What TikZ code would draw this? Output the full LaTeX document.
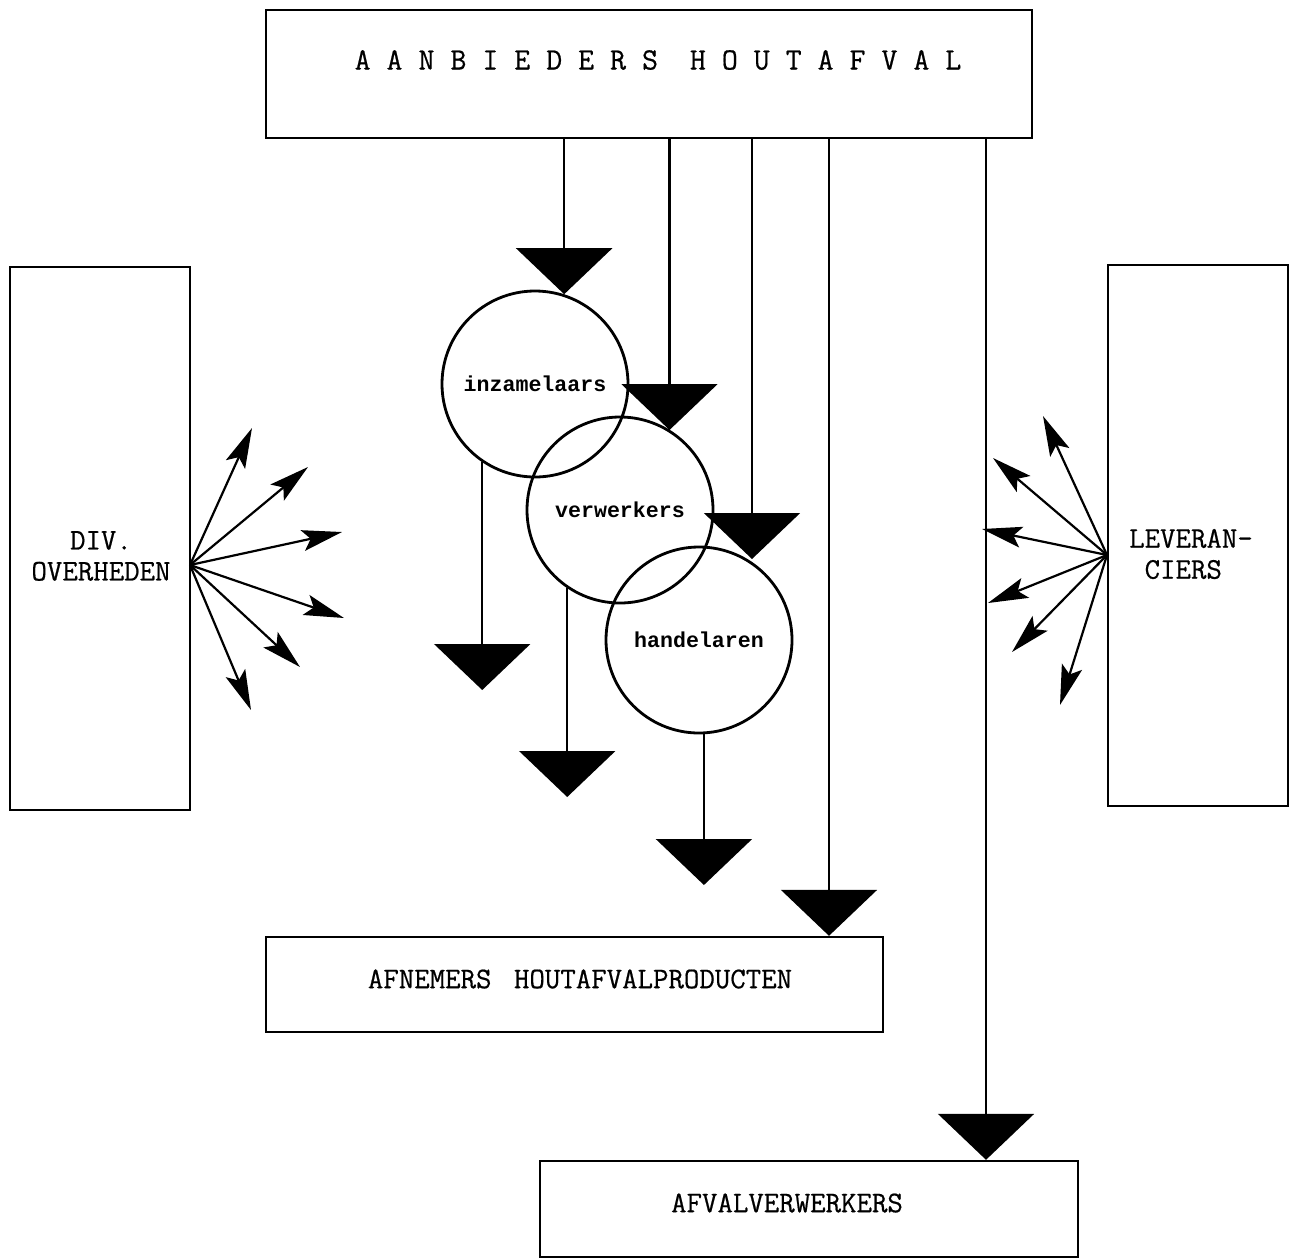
\documentclass[tikz,border=0pt]{standalone}
\usepackage{fontspec}
\newfontfamily\circfont{Liberation Mono}
\newfontfamily\boxfont{Latin Modern Mono}[FakeBold=0.6]
\usetikzlibrary{arrows.meta}
\begin{document}
\begin{tikzpicture}[x=0.5pt,y=-0.5pt,
  box/.style={draw, line width=1.2pt, inner sep=0pt},
  lbl/.style={font=\fontsize{15}{15.5}\selectfont\boxfont, inner sep=0pt},
  circ/.style={draw, circle, line width=1.4pt, minimum size=93pt, inner sep=0pt,
    font=\fontsize{10.8}{12}\selectfont\circfont\bfseries},
  flow/.style={line width=1.2pt, -{Triangle[length=23pt,width=48pt]}},
  ray/.style={line width=1.1pt, -{Stealth[length=20pt,width=10.5pt,inset=4pt]}}]
\useasboundingbox (0,0) rectangle (1290,1259);

% boxes
\node[box, minimum width=383pt, minimum height=64pt] (top) at (649,74) {};
\node[lbl, font=\fontsize{15.5}{16}\selectfont\boxfont] (toptxt) at (658,60)
  {A A N B I E D E R S~~H O U T A F V A L};
\node[box, minimum width=90pt, minimum height=271.5pt] (gov) at (100,538.5) {};
\node[lbl, align=center] (govtxt) at (101,556) {DIV.\\OVERHEDEN};
\node[box, minimum width=90pt, minimum height=270.5pt] (lev) at (1198,535.5) {};
\node[lbl, align=left] (levtxt) at (1191,554) {LEVERAN-\\~CIERS};
\node[box, minimum width=308.5pt, minimum height=47.5pt] (afn) at (574.5,984.5) {};
\node[lbl] (afntxt) at (580,979) {AFNEMERS\hspace{0.75em}HOUTAFVALPRODUCTEN};
\node[box, minimum width=269pt, minimum height=48pt] (afv) at (809,1209) {};
\node[lbl] (afvtxt) at (787,1203) {AFVALVERWERKERS};

% circles
\node[circ] (inz) at (535,384) {inzamelaars};
\node[circ] (ver) at (620,510) {verwerkers};
\node[circ] (han) at (699,640) {handelaren};

% flows from the top box
\coordinate (a1) at (inz.72.5);
\coordinate (a2) at (669.5,430);
\coordinate (a3) at (752,559);
\coordinate (x4) at (829,0);
\coordinate (x5) at (986,0);
\draw[flow] (top.south -| a1) -- (a1);
\draw[flow] (top.south -| a2) -- (a2);
\draw[flow] (top.south -| a3) -- (a3);
\draw[flow] (top.south -| x4) -- (afn.north -| x4);
\draw[flow] (top.south -| x5) -- (afv.north -| x5);

% flows from the circles
\coordinate (b1) at (0,690);
\coordinate (b2) at (0,797);
\coordinate (b3) at (0,885);
\draw[flow] (inz.-124.5) -- (inz.-124.5 |- b1);
\draw[flow] (ver.-124) -- (ver.-124 |- b2);
\draw[flow] (han.-87) -- (han.-87 |- b3);

% rays left
\coordinate (L) at (190,565);
\coordinate (l1) at (252,428);
\coordinate (l2) at (308,467);
\coordinate (l3) at (342,532);
\coordinate (l4) at (344,618);
\coordinate (l5) at (300,667);
\coordinate (l6) at (251,710);
\foreach \t in {l1,l2,l3,l4,l5,l6} \draw[ray] (L) -- (\t);

% rays right
\coordinate (R) at (1107,555);
\coordinate (r1) at (1043,416);
\coordinate (r2) at (993,458);
\coordinate (r3) at (982,529);
\coordinate (r4) at (988,603);
\coordinate (r5) at (1012,652);
\coordinate (r6) at (1060,705);
\foreach \t in {r1,r2,r3,r4,r5,r6} \draw[ray] (R) -- (\t);
\end{tikzpicture}
\end{document}
